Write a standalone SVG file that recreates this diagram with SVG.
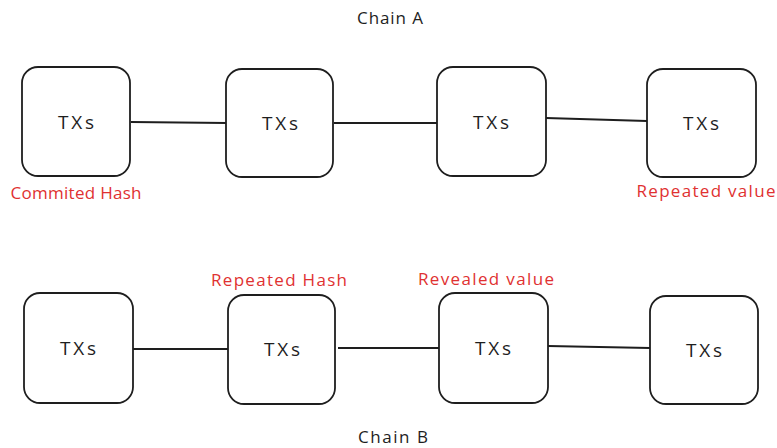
<svg xmlns="http://www.w3.org/2000/svg" width="777" height="448" viewBox="0 0 777 448">
<style>
.box{fill:#fff;stroke:#1e1e1e;stroke-width:1.8}
.ln{stroke:#1e1e1e;stroke-width:1.8;fill:none}
.t{font-family:"Open Sans","Liberation Sans",sans-serif;font-size:17px;fill:#1e1e1e;text-anchor:middle}
.x{font-family:"Open Sans","Liberation Sans",sans-serif;font-size:19px;fill:#1e1e1e;text-anchor:middle}
.r{font-family:"Open Sans","Liberation Sans",sans-serif;font-size:17px;fill:#e03131;text-anchor:middle}
</style>
<rect width="777" height="448" fill="#fff"/>
<g id="connectors">
<line class="ln" x1="131" y1="122" x2="227" y2="123"/>
<line class="ln" x1="334" y1="123" x2="437" y2="123"/>
<line class="ln" x1="546" y1="118" x2="647" y2="121"/>
<line class="ln" x1="133" y1="349" x2="228" y2="349"/>
<line class="ln" x1="338" y1="348" x2="439" y2="348"/>
<line class="ln" x1="548" y1="346" x2="650" y2="348"/>
</g>
<g id="chainA-title"><text class="t" x="390" y="24" textLength="66">Chain A</text></g>
<g id="a1"><rect class="box" x="22" y="67" width="108" height="109" rx="16"/><text class="x" x="76" y="129" textLength="36">TXs</text></g>
<g id="a2"><rect class="box" x="226" y="69" width="107" height="108" rx="16"/><text class="x" x="280" y="130" textLength="36">TXs</text></g>
<g id="a3"><rect class="box" x="437" y="67" width="109" height="109" rx="16"/><text class="x" x="491" y="129" textLength="36">TXs</text></g>
<g id="a4"><rect class="box" x="647" y="69" width="109" height="108" rx="16"/><text class="x" x="701" y="130" textLength="36">TXs</text></g>
<g id="labelA1"><text class="r" x="76" y="199" textLength="131">Commited Hash</text></g>
<g id="labelA4"><text class="r" x="706" y="197" textLength="139">Repeated value</text></g>
<g id="b1"><rect class="box" x="24" y="293" width="109" height="110" rx="16"/><text class="x" x="78" y="355" textLength="36">TXs</text></g>
<g id="b2"><rect class="box" x="228" y="295" width="107" height="109" rx="16"/><text class="x" x="282" y="356" textLength="36">TXs</text></g>
<g id="b3"><rect class="box" x="439" y="293" width="109" height="110" rx="16"/><text class="x" x="493" y="355" textLength="36">TXs</text></g>
<g id="b4"><rect class="box" x="650" y="296" width="108" height="108" rx="16"/><text class="x" x="704" y="357" textLength="36">TXs</text></g>
<g id="labelB2"><text class="r" x="279" y="286" textLength="136">Repeated Hash</text></g>
<g id="labelB3"><text class="r" x="486" y="285" textLength="136">Revealed value</text></g>
<g id="chainB-title"><text class="t" x="393" y="443" textLength="70">Chain B</text></g>
</svg>
